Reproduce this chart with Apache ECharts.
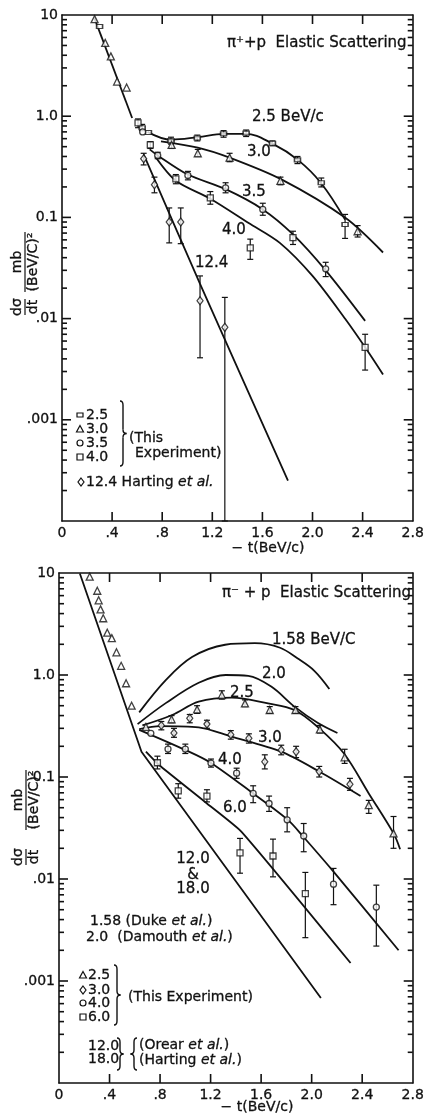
<!DOCTYPE html>
<html>
<head>
<meta charset="utf-8">
<script src="https://cdn.jsdelivr.net/npm/echarts@6/dist/echarts.min.js"></script>
<style>
html, body { margin: 0; padding: 0; background: #fff; }
#chart { width: 427px; height: 1114px; }
</style>
</head>
<body>
<div id="chart"></div>
<script>
// tick labels
const xTickLabels = ['0', '.4', '.8', '1.2', '1.6', '2.0', '2.4', '2.8'];
const yTickLabels = ['', '.001', '.01', '0.1', '1.0', '10']; // 1e-4 .. 10

// pi+ p  : [ -t, dsigma/dt, err low, err high ]
const pipP25 = [[0.30,7.7,null,null],[0.64,0.77,0.72,0.83],[0.69,0.69,null,null],[0.87,0.57,0.53,0.62],[1.08,0.61,0.57,0.65],[1.29,0.67,0.62,0.72],[1.47,0.68,0.63,0.73],[1.68,0.54,0.51,0.57],[1.88,0.37,0.34,0.40],[2.07,0.22,0.20,0.245],[2.26,0.085,0.062,0.107]];
const pipP30 = [[0.26,9.1,null,null],[0.345,5.3,null,null],[0.39,3.9,null,null],[0.44,2.2,null,null],[0.516,1.92,null,null],[0.875,0.52,0.48,0.57],[1.084,0.43,0.40,0.47],[1.338,0.39,0.355,0.43],[1.744,0.23,0.21,0.25],[2.36,0.073,0.064,0.083]];
const pipP35 = [[0.644,0.70,null,null],[0.764,0.41,0.38,0.44],[1.005,0.26,0.235,0.285],[1.306,0.196,0.175,0.22],[1.603,0.12,0.105,0.138],[2.105,0.031,0.026,0.036]];
const pipP40 = [[0.607,0.86,0.77,0.94],[0.705,0.52,0.48,0.56],[0.909,0.24,0.215,0.265],[1.184,0.156,0.135,0.18],[1.503,0.050,0.0385,0.061],[1.844,0.063,0.054,0.073],[2.42,0.0052,0.0031,0.0070]];
const pipP124 = [[0.652,0.38,0.33,0.43],[0.738,0.21,0.175,0.25],[0.856,0.09,0.056,0.124],[0.948,0.09,0.055,0.124],[1.102,0.015,0.0041,0.0264],[1.30,0.0082,0.0001,0.0162]];

// pi+ p curves
const pipSteep = [[0.259,9.3],[0.56,0.96]];
const pipC25 = [[0.683,0.70],[0.874,0.586],[1.084,0.62],[1.294,0.67],[1.463,0.67],[1.687,0.53],[1.883,0.37],[2.066,0.22],[2.26,0.095]];
const pipC30 = [[0.79,0.565],[1.084,0.49],[1.338,0.39],[1.744,0.24],[2.262,0.099],[2.563,0.045]];
const pipC35 = [[0.70,0.47],[0.764,0.41],[1.005,0.265],[1.306,0.19],[1.603,0.12],[1.844,0.068],[2.105,0.030],[2.42,0.0095]];
const pipC40 = [[0.744,0.40],[0.909,0.23],[1.184,0.153],[1.49,0.088],[1.739,0.056],[2.0,0.0264],[2.262,0.0099],[2.42,0.0052],[2.563,0.0028]];
const pipC124 = [[0.652,0.42],[1.102,0.022],[1.804,0.00025]];

// pi- p points
const pimP25 = [[0.243,9.2,null,null],[0.303,6.7,null,null],[0.314,5.4,null,null],[0.329,4.4,null,null],[0.35,3.6,null,null],[0.382,2.6,null,null],[0.418,2.3,null,null],[0.455,1.67,null,null],[0.492,1.23,null,null],[0.531,0.83,null,null],[0.575,0.50,null,null],[0.688,0.31,null,null],[0.891,0.368,0.34,0.40],[1.093,0.46,0.42,0.50],[1.289,0.637,0.58,0.70],[1.472,0.527,0.49,0.57],[1.668,0.454,0.42,0.49],[1.872,0.454,0.42,0.49],[2.065,0.293,0.27,0.32],[2.261,0.156,0.136,0.187],[2.452,0.053,0.044,0.059],[2.648,0.028,0.020,0.041]];
const pimP30 = [[0.81,0.32,0.29,0.35],[0.91,0.27,0.245,0.30],[1.035,0.376,0.34,0.41],[1.171,0.33,0.30,0.36],[1.36,0.26,0.235,0.285],[1.503,0.24,0.215,0.265],[1.629,0.141,0.12,0.165],[1.759,0.184,0.165,0.205],[1.877,0.177,0.155,0.20],[2.06,0.113,0.10,0.127],[2.303,0.085,0.074,0.097]];
const pimP40 = [[0.727,0.268,null,null],[0.863,0.188,0.17,0.21],[1.0,0.188,0.17,0.21],[1.203,0.137,0.125,0.15],[1.406,0.109,0.097,0.122],[1.537,0.069,0.056,0.082],[1.663,0.055,0.046,0.065],[1.806,0.038,0.029,0.050],[1.937,0.0264,0.0185,0.035],[2.173,0.0089,0.0056,0.0127],[2.512,0.0053,0.0022,0.0087]];
const pimP60 = [[0.779,0.138,0.12,0.16],[0.944,0.073,0.062,0.086],[1.171,0.065,0.057,0.075],[1.433,0.018,0.0114,0.025],[1.694,0.0168,0.0105,0.0246],[1.95,0.0072,0.00266,0.0116]];

// pi- p curves
const pimC12 = [[0.165,9.9],[0.653,0.177],[2.073,0.00068]];
const pimC60 = [[0.688,0.177],[0.792,0.131],[1.171,0.055],[1.445,0.029],[2.308,0.0015]];
const pimC40 = [[0.635,0.29],[1.0,0.184],[1.2,0.138],[1.537,0.069],[1.812,0.038],[1.929,0.0264],[2.173,0.0118],[2.688,0.002]];
const pimC30 = [[0.635,0.295],[0.80,0.315],[1.106,0.307],[1.36,0.25],[1.759,0.177],[2.06,0.113],[2.387,0.065]];
const pimC25 = [[0.66,0.32],[0.896,0.405],[1.106,0.547],[1.367,0.60],[1.655,0.527],[1.864,0.454],[2.06,0.30],[2.256,0.17],[2.452,0.069],[2.648,0.028],[2.70,0.0196]];
const pimC20 = [[0.622,0.33],[0.845,0.53],[1.106,0.84],[1.32,1.0],[1.498,0.98],[1.68,0.77],[1.864,0.49],[2.047,0.34],[2.204,0.27]];
const pimC158 = [[0.635,0.43],[0.845,0.89],[1.053,1.5],[1.315,1.98],[1.55,2.05],[1.75,1.85],[1.89,1.45],[2.021,1.1],[2.14,0.73]];

const F = 'DejaVu Sans';
const INK = '#111';

// frame ticks on the log axes (2..9 in every decade) and the majors
const minorVals = [];
for (let e = -4; e < 1; e++) {
  for (let k = 2; k <= 9; k++) minorVals.push(k * Math.pow(10, e));
}
const decadeVals = [0.001, 0.01, 0.1, 1];
const xMajorVals = [0.4, 0.8, 1.2, 1.6, 2.0, 2.4];

var chart = echarts.init(document.getElementById('chart'), null, { renderer: 'canvas' });

function xAxes(g) {
  return [
    { type: 'value', gridIndex: g, min: 0, max: 2.8, interval: 0.4, position: 'bottom',
      axisLine: { show: true, onZero: false, lineStyle: { color: INK, width: 1.6 } }, axisTick: { show: false }, splitLine: { show: false },
      axisLabel: { margin: 5, color: INK, fontSize: 14, fontFamily: F, textBorderColor: INK, textBorderWidth: 0.3,
        formatter: function (v) { return xTickLabels[Math.round(v / 0.4)]; } } },
    { type: 'value', gridIndex: g, min: 0, max: 2.8, interval: 0.4, position: 'top',
      axisLine: { show: true, onZero: false, lineStyle: { color: INK, width: 1.6 } }, axisTick: { show: false }, splitLine: { show: false }, axisLabel: { show: false } }
  ];
}
function yAxes(g) {
  return [
    { type: 'log', logBase: 10, gridIndex: g, min: 0.0001, max: 10, splitNumber: 5, position: 'left',
      axisLine: { show: true, onZero: false, lineStyle: { color: INK, width: 1.6 } }, axisTick: { show: false }, splitLine: { show: false },
      axisLabel: { margin: 4, color: INK, fontSize: 14, fontFamily: F, textBorderColor: INK, textBorderWidth: 0.3,
        formatter: function (v) { return yTickLabels[Math.round(Math.log10(v)) + 4]; } } },
    { type: 'log', logBase: 10, gridIndex: g, min: 0.0001, max: 10, splitNumber: 5, position: 'right',
      axisLine: { show: true, onZero: false, lineStyle: { color: INK, width: 1.6 } }, axisTick: { show: false }, splitLine: { show: false }, axisLabel: { show: false } }
  ];
}

function errRender(params, api) {
  var t = api.value(0);
  var a = api.coord([t, api.value(2)]);
  var b = api.coord([t, api.value(3)]);
  var w = 3, st = { stroke: INK, lineWidth: 1.2 };
  return { type: 'group', children: [
    { type: 'line', shape: { x1: a[0], y1: a[1], x2: b[0], y2: b[1] }, style: st },
    { type: 'line', shape: { x1: a[0] - w, y1: a[1], x2: a[0] + w, y2: a[1] }, style: st },
    { type: 'line', shape: { x1: b[0] - w, y1: b[1], x2: b[0] + w, y2: b[1] }, style: st }
  ] };
}

function lineS(data, ai, smooth) {
  return { type: 'line', xAxisIndex: ai, yAxisIndex: ai, data: data, showSymbol: false,
    smooth: smooth, lineStyle: { color: INK, width: 1.8 }, z: 2, silent: true };
}
function errS(data, ai) {
  return { type: 'custom', xAxisIndex: ai, yAxisIndex: ai, renderItem: errRender,
    data: data.filter(function (d) { return d[2] != null; }), encode: { x: 0, y: 1 }, z: 3, silent: true };
}
function ptsS(data, ai, symbol, size) {
  return { type: 'scatter', xAxisIndex: ai, yAxisIndex: ai, symbol: symbol, symbolSize: size,
    data: data.map(function (d) { return [d[0], d[1]]; }),
    itemStyle: { color: '#fff', borderColor: INK, borderWidth: 1.3 }, z: 4, silent: true };
}

var series = [
  // top panel
  lineS(pipSteep, 0, false), lineS(pipC25, 0, 0.4), lineS(pipC30, 0, 0.3),
  lineS(pipC35, 0, 0.3), lineS(pipC40, 0, 0.3), lineS(pipC124, 0, 0.2),
  errS(pipP25, 0), errS(pipP30, 0), errS(pipP35, 0), errS(pipP40, 0), errS(pipP124, 0),
  ptsS(pipP25, 0, 'rect', [6, 4]), ptsS(pipP30, 0, 'triangle', 7), ptsS(pipP35, 0, 'circle', 6),
  ptsS(pipP40, 0, 'rect', 6), ptsS(pipP124, 0, 'diamond', [6, 8]),
  // bottom panel
  lineS(pimC12, 2, false), lineS(pimC60, 2, 0.15), lineS(pimC40, 2, 0.3), lineS(pimC30, 2, 0.3),
  lineS(pimC25, 2, 0.35), lineS(pimC20, 2, 0.35), lineS(pimC158, 2, 0.35),
  errS(pimP25, 2), errS(pimP30, 2), errS(pimP40, 2), errS(pimP60, 2),
  ptsS(pimP25, 2, 'triangle', 7), ptsS(pimP30, 2, 'diamond', [6, 8]), ptsS(pimP40, 2, 'circle', 6),
  ptsS(pimP60, 2, 'rect', 6)
];

function T(x, y, text, size, align, extra) {
  var st = { text: text, fontSize: size || 15, fontFamily: F, fill: INK,
    stroke: INK, lineWidth: 0.3,
    align: align || 'left', verticalAlign: 'middle', textAlign: align || 'left', textVerticalAlign: 'middle' };
  if (extra) for (var k in extra) st[k] = extra[k];
  return { type: 'text', x: x, y: y, style: st, z: 10 };
}
function TI(x, y, text, size) {
  return T(x, y, text, size, 'left', { rich: { i: { fontStyle: 'italic', fontSize: size, fontFamily: F, fill: INK } } });
}
// curly brace made of curves; dir 1 = "}", -1 = "{"
function brace(x, y0, y1, dir) {
  var m = (y0 + y1) / 2, st = { stroke: INK, lineWidth: 1.4, fill: null };
  function q(ax, ay, bx, by, cx, cy) {
    return { type: 'bezierCurve', shape: { x1: ax, y1: ay, x2: bx, y2: by, cpx1: cx, cpy1: cy }, style: st };
  }
  function l(ax, ay, bx, by) { return { type: 'line', shape: { x1: ax, y1: ay, x2: bx, y2: by }, style: st }; }
  return { type: 'group', z: 10, children: [
    q(x - 3 * dir, y0, x, y0 + 4, x, y0),
    l(x, y0 + 4, x, m - 4),
    q(x, m - 4, x + 3.5 * dir, m, x, m),
    q(x + 3.5 * dir, m, x, m + 4, x, m),
    l(x, m + 4, x, y1 - 4),
    q(x, y1 - 4, x - 3 * dir, y1, x, y1)
  ] };
}
function sym(kind, x, y) {
  var st = { fill: '#fff', stroke: INK, lineWidth: 1.2 };
  if (kind === 'circle') return { type: 'circle', shape: { cx: x, cy: y, r: 3 }, style: st, z: 10 };
  if (kind === 'rect') return { type: 'rect', shape: { x: x - 3, y: y - 3, width: 6, height: 6 }, style: st, z: 10 };
  if (kind === 'small') return { type: 'rect', shape: { x: x - 3, y: y - 2, width: 6, height: 4 }, style: st, z: 10 };
  if (kind === 'triangle') return { type: 'polygon', shape: { points: [[x, y - 3.5], [x + 3.5, y + 3], [x - 3.5, y + 3]] }, style: st, z: 10 };
  return { type: 'polygon', shape: { points: [[x, y - 4], [x + 3, y], [x, y + 4], [x - 3, y]] }, style: st, z: 10 };
}
function frac(x, y, num, den, half) {
  var base = { fontSize: 14, fontFamily: F, fill: INK, stroke: INK, lineWidth: 0.3, align: 'center', textAlign: 'center' };
  return { type: 'group', x: x, y: y, rotation: Math.PI / 2, z: 10, children: [
    { type: 'text', x: 0, y: -1, style: Object.assign({ text: num, verticalAlign: 'bottom', textVerticalAlign: 'bottom' }, base) },
    { type: 'line', shape: { x1: -half, y1: 0, x2: half, y2: 0 }, style: { stroke: INK, lineWidth: 1.2 } },
    { type: 'text', x: 0, y: 1, style: Object.assign({ text: den, verticalAlign: 'top', textVerticalAlign: 'top' }, base) }
  ] };
}

var graphic = [
  // top panel
  T(227, 43, 'π⁺+p  Elastic Scattering', 15),
  T(252, 117, '2.5 BeV/c', 15),
  T(247, 152, '3.0', 15),
  T(242, 192, '3.5', 15),
  T(222, 230, '4.0', 15),
  T(195, 263, '12.4', 15),
  sym('small', 80, 415), T(86, 415, '2.5', 14),
  sym('triangle', 80, 429), T(86, 429, '3.0', 14),
  sym('circle', 80, 443), T(86, 443, '3.5', 14),
  sym('rect', 80, 457), T(86, 457, '4.0', 14),
  brace(123, 401, 466, 1),
  T(129, 438, '(This', 14),
  T(135, 453, 'Experiment)', 14),
  sym('diamond', 81, 482), TI(86, 482, '12.4 Harting {i|et al.}', 14),
  T(268, 548, '− t(BeV/c)', 14, 'center'),
  frac(25, 307, 'dσ', 'dt', 8),
  frac(25, 262, 'mb', '(BeV/C)²', 30),
  // bottom panel
  T(222, 593, 'π⁻ + p  Elastic Scattering', 15),
  T(272, 640, '1.58 BeV/C', 15),
  T(262, 674, '2.0', 15),
  T(230, 693, '2.5', 15),
  T(258, 738, '3.0', 15),
  T(218, 760, '4.0', 15),
  T(223, 808, '6.0', 15),
  T(193, 859, '12.0', 15, 'center'),
  T(193, 875, '&', 15, 'center'),
  T(193, 889, '18.0', 15, 'center'),
  TI(90, 921, '1.58 (Duke {i|et al.})', 14),
  TI(86, 937, '2.0  (Damouth {i|et al.})', 14),
  sym('triangle', 83, 975), T(88, 975, '2.5', 14),
  sym('diamond', 83, 990), T(88, 990, '3.0', 14),
  sym('circle', 83, 1003), T(88, 1003, '4.0', 14),
  sym('rect', 83, 1017), T(88, 1017, '6.0', 14),
  brace(117, 965, 1025, 1),
  T(128, 997, '(This Experiment)', 14),
  T(88, 1046, '12.0', 14),
  T(88, 1059, '18.0', 14),
  brace(120, 1038, 1070, 1),
  brace(134, 1038, 1070, -1),
  TI(139, 1045, '(Orear {i|et al.})', 14),
  TI(139, 1060, '(Harting {i|et al.})', 14),
  T(257, 1107, '− t(BeV/c)', 14, 'center'),
  frac(26, 857, 'dσ', 'dt', 8),
  frac(26, 800, 'mb', '(BeV/C)²', 30)
];

var option = {
  animation: false,
  backgroundColor: '#fff',
  grid: [
    { left: 62, top: 15, width: 356, height: 506 },
    { left: 59, top: 573, width: 356, height: 510 }
  ],
  xAxis: xAxes(0).concat(xAxes(1)),
  yAxis: yAxes(0).concat(yAxes(1)),
  series: series,
  graphic: graphic
};
// axis indices: grid 0 -> 0 (bottom/left), 1 (top/right); grid 1 -> 2, 3
chart.setOption(option);

// frame ticks placed with the axes' own scales.
// converting the axis minimum itself misbehaves, so the left and bottom
// edges are found one step beyond .4/.8 and .001/.01
function px(ai, x, y) {
  return chart.convertToPixel({ xAxisIndex: ai, yAxisIndex: ai }, [x, y]);
}
function seg(x1, y1, x2, y2) {
  return { type: 'line', z: 20, shape: { x1: x1, y1: y1, x2: x2, y2: y2 }, style: { stroke: INK, lineWidth: 1.6 } };
}
var ticks = [];
[0, 2].forEach(function (ai) {
  var xL = 2 * px(ai, 0.4, 1)[0] - px(ai, 0.8, 1)[0];
  var xR = px(ai, 2.8, 1)[0];
  var yB = 2 * px(ai, 1, 0.001)[1] - px(ai, 1, 0.01)[1];
  var yT = px(ai, 1, 10)[1];
  minorVals.forEach(function (v) {
    var y = px(ai, 1, v)[1];
    ticks.push(seg(xL, y, xL + 5, y), seg(xR, y, xR - 5, y));
  });
  decadeVals.forEach(function (v) {
    var y = px(ai, 1, v)[1];
    ticks.push(seg(xL, y, xL + 9, y), seg(xR, y, xR - 9, y));
  });
  xMajorVals.forEach(function (t) {
    var x = px(ai, t, 1)[0];
    ticks.push(seg(x, yB, x, yB - 9), seg(x, yT, x, yT + 9));
  });
});
chart.setOption({ graphic: graphic.concat(ticks) });
</script>
</body>
</html>
